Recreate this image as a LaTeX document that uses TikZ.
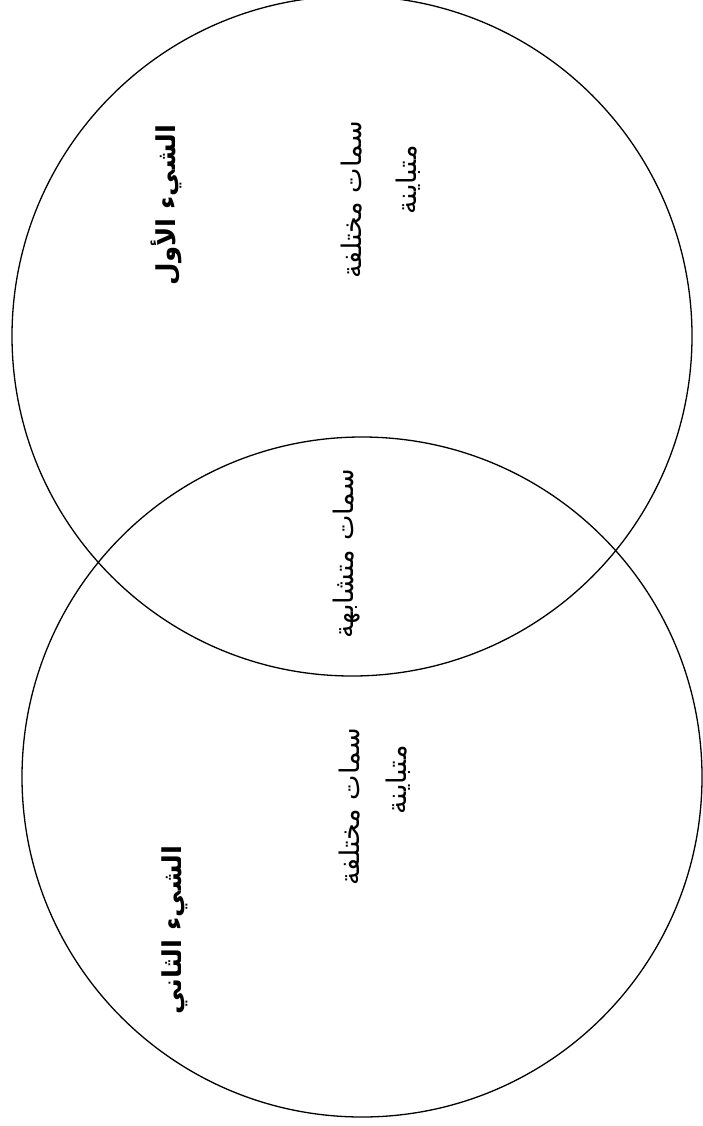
\documentclass[tikz,border=0pt]{standalone}
\usepackage{fontspec}
\newfontfamily\arabicfont[Script=Arabic]{DejaVu Sans}
\TeXXeTstate=1
\begin{document}
\begin{tikzpicture}[x=1pt,y=1pt,
  venn/.style={draw=black,line width=1.3pt},
  lbl/.style={rotate=90,font=\arabicfont\fontsize{27}{32}\selectfont,inner sep=0pt},
  title/.style={lbl,font=\arabicfont\bfseries\fontsize{26}{31}\selectfont}]
\useasboundingbox (0,0) rectangle (702,-1126);
\node[venn,circle,minimum size=680pt,inner sep=0pt] (first) at (352,-336) {};
\node[venn,circle,minimum size=680pt,inner sep=0pt] (second) at (362,-777) {};
\node[title] (t1) at (166,-205) {\beginR الشيء الأول\endR};
\node[lbl] (d1a) at (352,-200) {\beginR سمات مختلفة\endR};
\node[lbl] (d1b) at (408,-180) {\beginR متباينة\endR};
\node[lbl] (common) at (347,-554) {\beginR سمات متشابهة\endR};
\node[lbl] (d2a) at (350,-807) {\beginR سمات مختلفة\endR};
\node[lbl] (d2b) at (398,-780) {\beginR متباينة\endR};
\node[title] (t2) at (175,-930) {\beginR الشيء الثاني\endR};
\end{tikzpicture}
\end{document}
